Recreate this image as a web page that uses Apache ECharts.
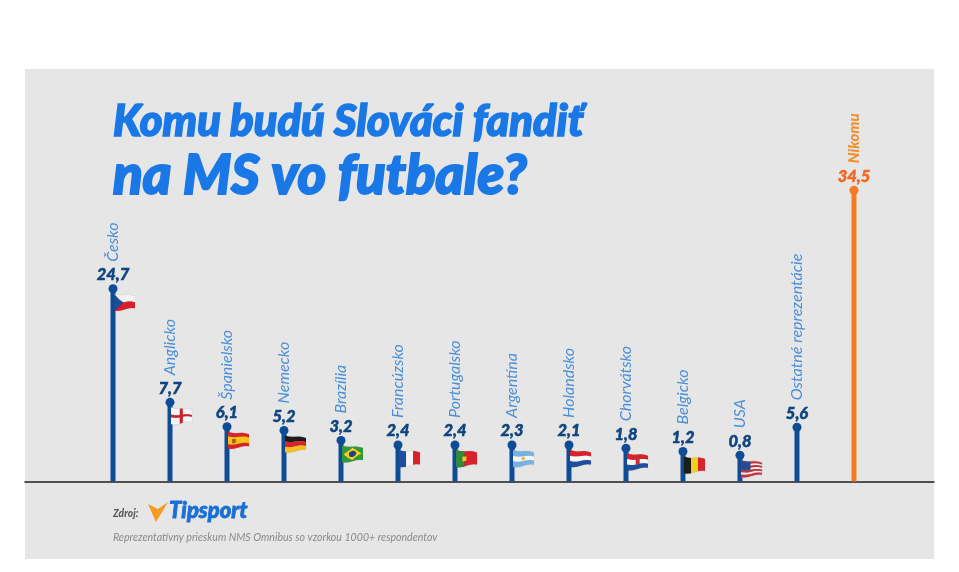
<!DOCTYPE html>
<html><head><meta charset="utf-8">
<style>html,body{margin:0;padding:0;background:#fff}#c{width:959px;height:572px}</style>
<script src="https://cdn.jsdelivr.net/npm/echarts@6/dist/echarts.min.js"></script>
</head><body><div id="c"></div>
<script>
// Categories and printed shares, as labelled in the picture
var categories = ['Česko','Anglicko','Španielsko','Nemecko','Brazília','Francúzsko','Portugalsko','Argentína','Holandsko','Chorvátsko','Belgicko','USA','Ostatné reprezentácie','Nikomu'];
var shares = [24.7,7.7,6.1,5.2,3.2,2.4,2.4,2.3,2.1,1.8,1.2,0.8,5.6,34.5];
// The picture's stems are not drawn to scale with the printed shares:
// these are the stem lengths, in axis units.
var stemLengths = [22.9,9.4,6.5,6.07,4.88,4.34,4.34,4.34,4.34,3.95,3.57,3.12,6.45,34.6];
var flagKeys = ['cz','en','es','de','br','fr','pt','ar','nl','hr','be','us',null,null];

var FONT = 'Lato, sans-serif';
var BLUE = '#0f4c96', ORANGE = '#f77a22', TITLE = '#1a78e6';

function R(c,u0,v0,u1,v1){return {c:c,p:[[u0,v0],[u1,v0],[u1,v1],[u0,v1]]};}
function P(c,p){return {c:c,p:p};}
var flags = {
  cz:[R('#f2f2f2',0,0,1,.5),R('#d9202a',0,.5,1,1),P('#1a4f96',[[0,0],[.45,.5],[0,1]])],
  en:[R('#f5f5f5',0,0,1,1),R('#cf1f2b',.42,0,.56,1),R('#cf1f2b',0,.42,1,.58)],
  es:[R('#d8232a',0,0,1,1),R('#f6c21c',0,.26,1,.74),R('#b5562a',.2,.38,.36,.64)],
  de:[R('#1c1c1c',0,0,1,.34),R('#d8232a',0,.34,1,.67),R('#f5bf1e',0,.67,1,1)],
  br:[R('#2f9a3c',0,0,1,1),P('#f5d61e',[[.5,.08],[.93,.5],[.5,.92],[.07,.5]]),P('#1f3f8a',[[.5,.28],[.64,.36],[.68,.5],[.64,.64],[.5,.72],[.36,.64],[.32,.5],[.36,.36]])],
  fr:[R('#1d4f9c',0,0,.34,1),R('#f5f5f5',.34,0,.67,1),R('#d8232a',.67,0,1,1)],
  pt:[R('#d8232a',0,0,1,1),R('#2f8a3c',0,0,.4,1),R('#f0c020',.3,.34,.5,.66)],
  ar:[R('#74b3e4',0,0,1,1),R('#f5f5f5',0,.34,1,.67),R('#e6b93a',.42,.42,.56,.58)],
  nl:[R('#d8232a',0,0,1,.34),R('#f5f5f5',0,.34,1,.67),R('#1d4f9c',0,.67,1,1)],
  hr:[R('#d8232a',0,0,1,.34),R('#f5f5f5',0,.34,1,.67),R('#1d4f9c',0,.67,1,1),R('#c8303a',.42,.2,.6,.68)],
  be:[R('#1c1c1c',0,0,.34,1),R('#f5cf1e',.34,0,.67,1),R('#d8232a',.67,0,1,1)],
  us:[R('#f3f3f3',0,0,1,1),R('#c9303a',0,0,1,.14),R('#c9303a',0,.28,1,.42),R('#c9303a',0,.56,1,.7),R('#c9303a',0,.84,1,1),R('#2b4a94',0,0,.45,.56)]
};

function warp(sx,sy,u,v){
  var h = 17 - 5*u;
  var y = sy + 5 + 2.5*u + v*h + 0.7*Math.sin(u*Math.PI*2);
  return [sx + 1 + u*21, y];
}
function edgePts(pts,sx,sy){
  var out=[],n=pts.length;
  for(var i=0;i<n;i++){
    var a=pts[i],b=pts[(i+1)%n];
    for(var k=0;k<6;k++){
      var t=k/6;
      out.push(warp(sx,sy,a[0]+(b[0]-a[0])*t,a[1]+(b[1]-a[1])*t));
    }
  }
  return out;
}

var chart = echarts.init(document.getElementById('c'),null,{renderer:'canvas'});
var points = stemLengths.map(function(h,i){return [i,h];});
function colorAt(i){return i===13?ORANGE:BLUE;}

chart.setOption({
  animation:false,
  backgroundColor:'#ffffff',
  title:[
    {text:'Komu budú Slováci fandiť',left:108,top:95,textStyle:{fontFamily:FONT,fontStyle:'italic',fontWeight:900,fontSize:43.5,color:TITLE,textBorderColor:TITLE,textBorderWidth:1.6}},
    {text:'na MS vo futbale?',left:108,top:144,textStyle:{fontFamily:FONT,fontStyle:'italic',fontWeight:900,fontSize:54.5,color:TITLE,textBorderColor:TITLE,textBorderWidth:2}}
  ],
  grid:{left:25,right:25,top:69,bottom:90.5,show:true,backgroundColor:'#e6e6e6',borderWidth:0},
  xAxis:{type:'value',min:-1.544,max:14.404,axisLine:{show:true,onZero:true,lineStyle:{color:'#1f1f1f',width:1.5}},axisTick:{show:false},axisLabel:{show:false},splitLine:{show:false}},
  yAxis:{type:'value',min:0,max:49,show:false,splitLine:{show:false}},
  graphic:[
    {type:'rect',silent:true,z:-1,shape:{x:25,y:481,width:909,height:78},style:{fill:'#e6e6e6'}},
    {type:'text',x:113,y:509,z:5,style:{text:'Zdroj:',font:'italic 900 10.3px '+FONT,fill:'#5a5a5a'}},
    {type:'polygon',z:5,shape:{points:[[148,504],[158,509],[168,502],[156,522]]},style:{fill:'#f59a23'}},
    {type:'text',x:169,y:500,z:5,style:{text:'Tipsport',font:'italic 900 22px '+FONT,fill:'#1a6fd6',stroke:'#1a6fd6',lineWidth:0.8}},
    {type:'text',x:113,y:532,z:5,style:{text:'Reprezentatívny prieskum NMS Omnibus so vzorkou 1000+ respondentov',font:'italic 400 10.6px '+FONT,fill:'#8a8a8a'}}
  ],
  series:[
    {type:'bar',barWidth:5,z:2,silent:true,
     data:points.map(function(p,i){return {value:p,itemStyle:{color:colorAt(i)}};})},
    {type:'custom',z:3,silent:true,clip:false,data:points,
     renderItem:function(params,api){
       var key=flagKeys[params.dataIndex];
       if(!key) return {type:'group',children:[]};
       var c=api.coord([api.value(0),api.value(1)]);
       return {type:'group',children:flags[key].map(function(s){
         return {type:'polygon',shape:{points:edgePts(s.p,c[0],c[1])},style:{fill:s.c,shadowBlur:1,shadowColor:'rgba(0,0,0,0.25)'}};
       })};
     }},
    {type:'scatter',z:4,symbol:'circle',symbolSize:9,silent:true,
     itemStyle:{opacity:1},
     data:points.map(function(p,i){
       return {value:p,itemStyle:{color:colorAt(i),opacity:1},
         label:{color:i===13?'#f0691f':'#0e447f',textBorderColor:i===13?'#f0691f':'#0e447f',textBorderWidth:0.5}};
     }),
     label:{show:true,position:'top',distance:1,fontFamily:FONT,fontStyle:'italic',fontWeight:900,fontSize:16.5,
       formatter:function(o){return shares[o.dataIndex].toFixed(1).replace('.',',');}}},
    {type:'scatter',z:4,symbolSize:0,silent:true,
     itemStyle:{opacity:1},
     data:points.map(function(p,i){
       return {value:p,label:i===13?{color:'#f0902f',fontWeight:900,fontSize:15}:{color:'#4a8ed8'}};
     }),
     label:{show:true,position:'top',distance:27,rotate:90,align:'left',verticalAlign:'middle',fontFamily:FONT,fontStyle:'italic',fontWeight:400,fontSize:16,
       formatter:function(o){return categories[o.dataIndex];}}}
  ]
});
</script></body></html>
